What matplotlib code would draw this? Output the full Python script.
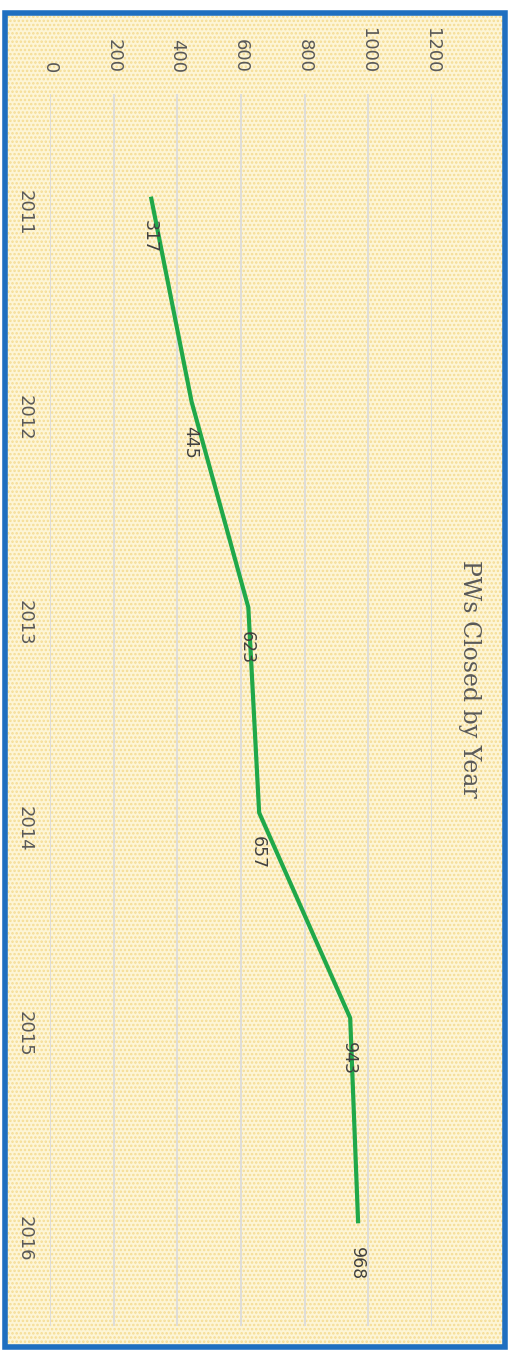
import numpy as np
import matplotlib
matplotlib.use("Agg")
import matplotlib.pyplot as plt
from matplotlib.patches import Rectangle

years = ["2011", "2012", "2013", "2014", "2015", "2016"]
closed = [317, 445, 623, 657, 943, 968]
value_ticks = [0, 200, 400, 600, 800, 1000, 1200]

W, H = 514, 1356
plt.rcParams["hatch.linewidth"] = 1.2

fig = plt.figure(figsize=(W / 100, H / 100), dpi=100)

# yellow textured panel with blue frame (figure pixel coords, top-down)
def fx(x):
    return x / W

def fy(y):
    return 1 - y / H

bg = Rectangle((fx(5), fy(1347)), fx(500), 1334 / H, transform=fig.transFigure,
               facecolor="#fdf5d6", edgecolor="#f5dc93", hatch="....", lw=0, zorder=-5)
fig.add_artist(bg)
frame = Rectangle((fx(5), fy(1347)), fx(500), 1334 / H, transform=fig.transFigure,
                  facecolor="none", edgecolor="#1f6fc0", lw=4, zorder=5)
fig.add_artist(frame)

ax = fig.add_axes([fx(50), fy(1326), (432 - 50) / W, (1326 - 94) / H])
ax.set_facecolor("none")
ax.set_zorder(1)

idx = np.arange(len(years))
ax.plot(closed, idx, color="#20a84a", lw=3, solid_capstyle="butt", zorder=3)

for v, i in zip(closed, idx):
    ax.annotate(str(v), (v, i), xytext=(-1, -29), textcoords="offset points",
                rotation=-90, ha="center", va="center", fontsize=12.5, color="#404040")

ax.set_xlim(0, 1200)
ax.set_ylim(len(years) - 0.5, -0.5)

ax.xaxis.tick_top()
ax.set_xticks(value_ticks)
ax.set_xticklabels([str(t) for t in value_ticks], rotation=-90, fontsize=13, color="#595959")
ax.set_yticks(idx)
ax.set_yticklabels(years, rotation=-90, fontsize=13, color="#595959")
ax.tick_params(axis="x", length=0, pad=15)
ax.tick_params(axis="y", length=0, pad=12)

ax.grid(axis="x", color="#dcdcdc", lw=1.3)
ax.set_axisbelow(True)
for s in ax.spines.values():
    s.set_visible(False)

fig.text(fx(470), fy(679), "PWs Closed by Year", rotation=-90, ha="center", va="center",
         fontsize=17, family="DejaVu Serif", color="#595959")

fig.savefig("out.png", dpi=100)
